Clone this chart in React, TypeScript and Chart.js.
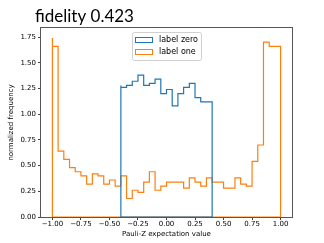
import React, { useEffect, useRef } from "react";
import { Chart, registerables } from "chart.js";
Chart.register(...registerables);

const titleText = "fidelity 0.423";
const xAxisLabel = "Pauli-Z expectation value";
const yAxisLabel = "normalized frequency";
const seriesNames = ["label zero", "label one"];
const seriesColors = ["#1f77b4", "#ff7f0e"];
const binWidth = 0.05;
const zeroStart = -0.4;
const oneStart = -1.0;
const labelZero = [1.28, 1.26, 1.28, 1.32, 1.38, 1.28, 1.3, 1.34, 1.2, 1.24, 1.08, 1.2, 1.26, 1.3, 1.16, 1.12];
const labelOne = [
  1.74, 1.66, 0.64, 0.56, 0.48, 0.44, 0.4, 0.32, 0.42, 0.4,
  0.32, 0.36, 0.3, 0.4, 0.18, 0.26, 0.24, 0.34, 0.44, 0.26,
  0.3, 0.34, 0.34, 0.34, 0.28, 0.38, 0.34, 0.3, 0.38, 0.34,
  0.34, 0.28, 0.28, 0.38, 0.32, 0.3, 0.54, 0.7, 1.7, 1.66,
];
const xTicks = [-1, -0.75, -0.5, -0.25, 0, 0.25, 0.5, 0.75, 1];
const yTicks = [0, 0.25, 0.5, 0.75, 1, 1.25, 1.5, 1.75];
const xRange = [-1.1, 1.1];
const yRange = [0, 1.838];

const fmt = (v: number) => (v < 0 ? "\u2212" : "") + Math.abs(v).toFixed(2);

function stepPoints(start: number, values: number[]) {
  const pts: { x: number; y: number }[] = [{ x: start, y: 0 }];
  values.forEach((v, i) => pts.push({ x: start + i * binWidth, y: v }));
  const end = start + values.length * binWidth;
  pts.push({ x: end, y: values[values.length - 1] });
  pts.push({ x: end, y: 0 });
  pts.push({ x: start, y: 0 });
  return pts;
}

const TICK_FONT = { family: "'DejaVu Sans'", size: 7 };

const framePlugin = {
  id: "frame",
  afterDatasetsDraw(chart: any) {
    const { ctx, chartArea: a } = chart;
    ctx.save();
    ctx.strokeStyle = "#555";
    ctx.lineWidth = 1;
    ctx.strokeRect(Math.round(a.left) - 0.5, Math.round(a.top) - 0.5, Math.round(a.right - a.left) + 1, Math.round(a.bottom - a.top) + 1);
    ctx.restore();
  },
};

const titlePlugin = {
  id: "leftTitle",
  afterDraw(chart: any) {
    const { ctx, chartArea: a } = chart;
    ctx.save();
    ctx.font = "17px Lato";
    ctx.fillStyle = "#000";
    ctx.textBaseline = "alphabetic";
    ctx.textAlign = "left";
    ctx.fillText(titleText, a.left - 6, a.top - 6);
    ctx.restore();
  },
};

const legendPlugin = {
  id: "boxLegend",
  afterDraw(chart: any) {
    const { ctx, chartArea: a } = chart;
    const ds = chart.data.datasets;
    ctx.save();
    ctx.font = "8px 'DejaVu Sans'";
    const textW = Math.max(...ds.map((d: any) => ctx.measureText(d.label).width));
    const boxW = 3 + 18 + 6 + textW + 3;
    const rowH = 12;
    const boxH = 4 + ds.length * rowH;
    const bx = (a.left + a.right) / 2 - boxW / 2;
    const by = a.top + 4;
    ctx.fillStyle = "rgba(255,255,255,0.8)";
    ctx.strokeStyle = "#d0d0d0";
    ctx.lineWidth = 1;
    ctx.beginPath();
    ctx.roundRect(Math.round(bx) + 0.5, Math.round(by) + 0.5, boxW, boxH, 2);
    ctx.fill();
    ctx.stroke();
    ds.forEach((d: any, i: number) => {
      const cy = by + 8 + i * rowH;
      ctx.strokeStyle = d.borderColor;
      ctx.lineWidth = 1;
      ctx.strokeRect(Math.round(bx + 3) + 0.5, Math.round(cy - 3) + 0.5, 17, 5);
      ctx.fillStyle = "#000";
      ctx.textBaseline = "middle";
      ctx.fillText(d.label, bx + 3 + 18 + 6, cy);
    });
    ctx.restore();
  },
};

export default function App() {
  const ref = useRef<HTMLCanvasElement | null>(null);
  useEffect(() => {
    if (!ref.current) return;
    const chart = new Chart(ref.current, {
      type: "scatter",
      data: {
        datasets: [
          {
            label: seriesNames[0],
            data: stepPoints(zeroStart, labelZero),
            borderColor: seriesColors[0],
            showLine: true,
            stepped: "after",
            borderWidth: 1.2,
            pointRadius: 0,
            fill: false,
          },
          {
            label: seriesNames[1],
            data: stepPoints(oneStart, labelOne),
            borderColor: seriesColors[1],
            showLine: true,
            stepped: "after",
            borderWidth: 1.2,
            pointRadius: 0,
            fill: false,
          },
        ],
      },
      options: {
        animation: false,
        responsive: false,
        events: [],
        layout: { padding: { left: 0, right: 32, top: 28, bottom: 5 } },
        plugins: { legend: { display: false }, tooltip: { enabled: false }, title: { display: false } },
        scales: {
          x: {
            type: "linear",
            min: xRange[0],
            max: xRange[1],
            afterBuildTicks: (s: any) => {
              s.ticks = xTicks.map((v) => ({ value: v }));
            },
            afterFit: (s: any) => {
              s.height = 21;
            },
            ticks: { callback: (v: any) => fmt(Number(v)), font: TICK_FONT, color: "#000", padding: 0, maxRotation: 0, autoSkip: false },
            grid: { display: true, drawOnChartArea: false, drawTicks: true, tickLength: 3, color: "#444" },
            border: { display: false },
            title: { display: true, text: xAxisLabel, font: TICK_FONT, color: "#000", padding: { top: 0, bottom: 0 } },
          },
          y: {
            type: "linear",
            min: yRange[0],
            max: yRange[1],
            afterBuildTicks: (s: any) => {
              s.ticks = yTicks.map((v) => ({ value: v }));
            },
            afterFit: (s: any) => {
              s.width = 41;
            },
            ticks: { callback: (v: any) => fmt(Number(v)), font: TICK_FONT, color: "#000", padding: 2, autoSkip: false },
            grid: { display: true, drawOnChartArea: false, drawTicks: true, tickLength: 3, color: "#444" },
            border: { display: false },
            title: { display: true, text: yAxisLabel, font: TICK_FONT, color: "#000", padding: { top: 7, bottom: 0 } },
          },
        },
      },
      plugins: [framePlugin, titlePlugin, legendPlugin],
    } as any);
    return () => chart.destroy();
  }, []);
  return (
    <div style={{ position: "fixed", left: 0, top: 0, width: 324, height: 243, background: "#fff" }}>
      <canvas ref={ref} width={324} height={243} style={{ width: 324, height: 243, display: "block" }} />
    </div>
  );
}
